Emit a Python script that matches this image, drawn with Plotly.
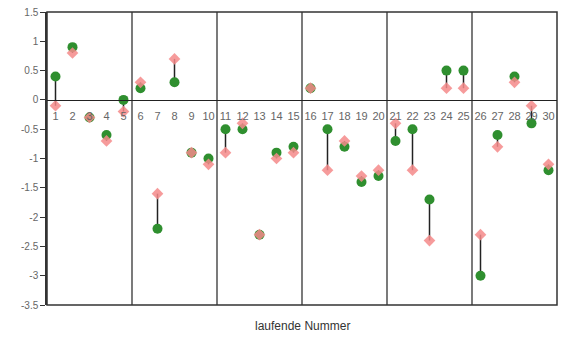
import plotly.graph_objects as go

nummer = list(range(1, 31))
gruen = [0.4, 0.9, -0.3, -0.6, 0.0, 0.2, -2.2, 0.3, -0.9, -1.0,
         -0.5, -0.5, -2.3, -0.9, -0.8, 0.2, -0.5, -0.8, -1.4, -1.3,
         -0.7, -0.5, -1.7, 0.5, 0.5, -3.0, -0.6, 0.4, -0.4, -1.2]
rosa = [-0.1, 0.8, -0.3, -0.7, -0.2, 0.3, -1.6, 0.7, -0.9, -1.1,
        -0.9, -0.4, -2.3, -1.0, -0.9, 0.2, -1.2, -0.7, -1.3, -1.2,
        -0.4, -1.2, -2.4, 0.2, 0.2, -2.3, -0.8, 0.3, -0.1, -1.1]
y_ticks = [1.5, 1, 0.5, 0, -0.5, -1, -1.5, -2, -2.5, -3, -3.5]
gruppen_grenzen = [5.5, 10.5, 15.5, 20.5, 25.5]

lx, ly = [], []
for n, g, r in zip(nummer, gruen, rosa):
    lx += [n, n, None]
    ly += [g, r, None]

fig = go.Figure()
fig.add_trace(go.Scatter(x=lx, y=ly, mode="lines",
                         line=dict(color="#222222", width=1.5),
                         hoverinfo="skip", showlegend=False))
fig.add_trace(go.Scatter(x=nummer, y=gruen, mode="markers",
                         marker=dict(symbol="circle", size=10, color="#2f8f2f"),
                         showlegend=False))
fig.add_trace(go.Scatter(x=nummer, y=rosa, mode="markers",
                         marker=dict(symbol="diamond", size=9, color="#f48a8a", opacity=0.85),
                         showlegend=False))

for gx in gruppen_grenzen:
    fig.add_shape(type="line", xref="x", yref="paper", x0=gx, x1=gx, y0=0, y1=1,
                  line=dict(color="#333333", width=1.3), layer="below")
fig.add_shape(type="rect", xref="paper", yref="paper", x0=0, x1=1, y0=0, y1=1,
              line=dict(color="#333333", width=1.5), layer="below")

fig.add_annotation(text="laufende Nummer", xref="paper", yref="paper",
                   x=0.5, y=-0.04, yanchor="top", showarrow=False,
                   font=dict(size=12, color="#333333"))

fig.update_layout(
    width=563, height=342,
    margin=dict(l=47, r=6, t=12, b=37),
    paper_bgcolor="white", plot_bgcolor="white",
    font=dict(family="Liberation Sans, Arial, sans-serif", color="#555555"),
    xaxis=dict(range=[0.5, 30.5], tickvals=nummer, ticktext=[str(n) for n in nummer],
               anchor="free", position=0.7, showline=True, linecolor="#222222", linewidth=1.3,
               showgrid=False, zeroline=False, ticks="outside", ticklen=0,
               ticklabelstandoff=6, tickfont=dict(size=11, color="#666666")),
    yaxis=dict(range=[-3.5, 1.5], tickvals=y_ticks, ticktext=[str(v) for v in y_ticks],
               showgrid=False, zeroline=False, showline=True, linecolor="#333333", linewidth=1.5,
               ticks="outside", ticklen=5, tickcolor="#333333",
               tickfont=dict(size=10, color="#666666")),
)

fig.write_html("out.html")
